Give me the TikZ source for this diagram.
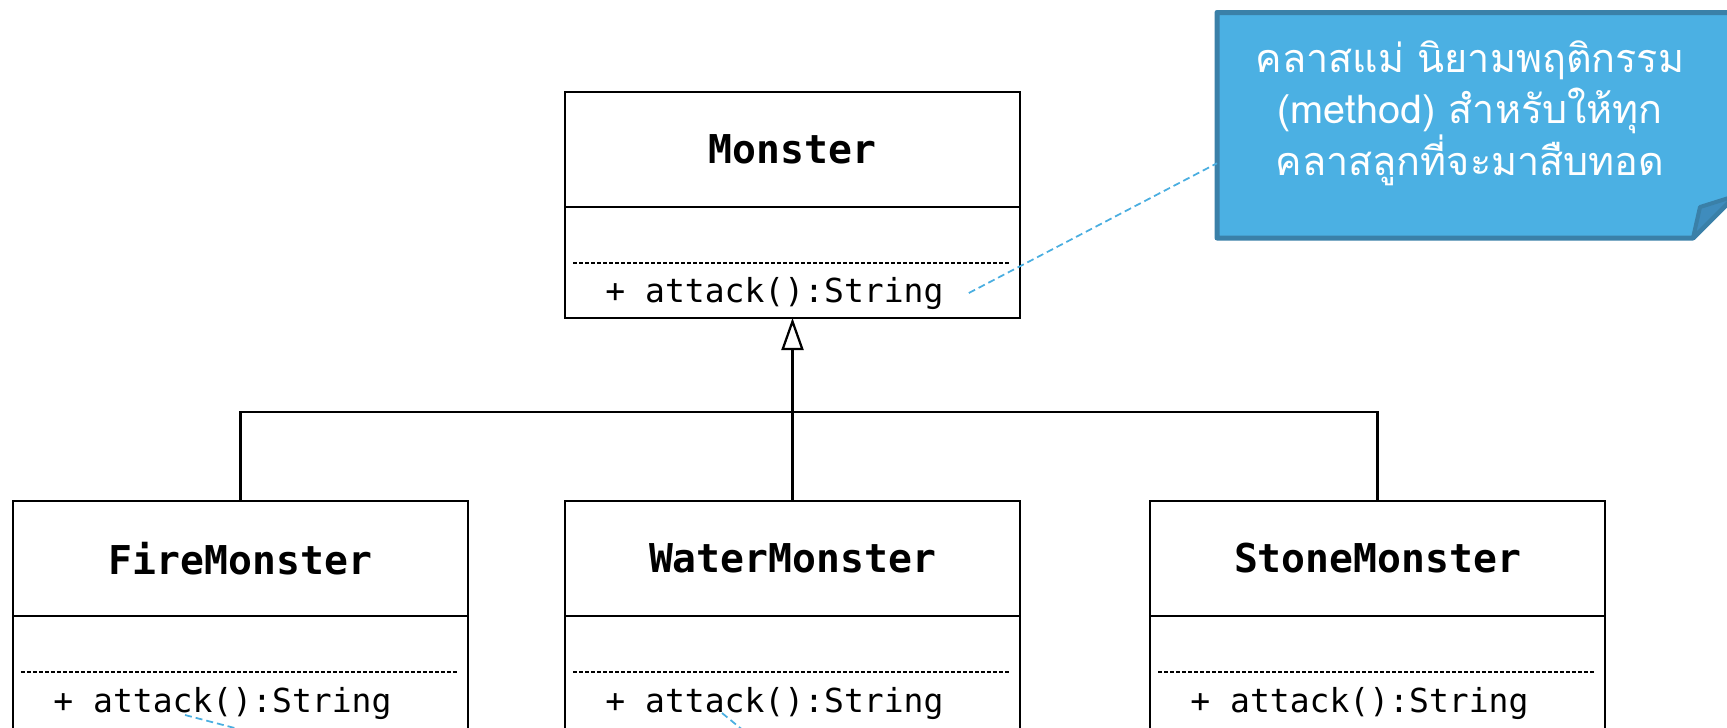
\documentclass[tikz,border=0pt]{standalone}
\usepackage{fontspec}
\setmonofont{DejaVu Sans Mono}
\newfontfamily\thaifont[Script=Thai]{Loma}
\usetikzlibrary{arrows.meta, positioning}

\definecolor{notefill}{HTML}{4BB0E3}
\definecolor{noteedge}{HTML}{3A80A8}
\definecolor{notefold}{HTML}{3F8CBD}
\definecolor{linkblue}{HTML}{4AAEE0}

\tikzstyle{classhead} = [
	rectangle,
	minimum width=9.1cm,
	minimum height=2.3cm,
	outer sep=0pt,
	draw=black,
	line width=0.045cm,
	font=\fontsize{22.6}{27}\selectfont\ttfamily\bfseries
]
\tikzstyle{classbody} = [
	rectangle,
	minimum width=9.1cm,
	minimum height=2.22cm,
	outer sep=0pt,
	draw=black,
	line width=0.045cm,
	path picture={
		\draw [black, line width=0.03cm, dash pattern=on 0.08cm off 0.04cm]
			([xshift=0.16cm, yshift=-1.12cm]path picture bounding box.north west) --
			([xshift=-0.2cm, yshift=-1.12cm]path picture bounding box.north east);
	}
]
\tikzstyle{operation} = [
	anchor=base west,
	inner sep=0pt,
	font=\fontsize{18.8}{22}\selectfont\ttfamily
]
\tikzstyle{callout} = [
	rectangle,
	minimum width=10.36cm,
	minimum height=4.51cm,
	outer sep=0pt,
	inner sep=0pt
]
\tikzstyle{notetext} = [
	text=white,
	align=center,
	font=\thaifont\fontsize{22.5}{29.5}\selectfont
]
\tikzstyle{uml} = [line width=0.045cm]
\tikzstyle{inherit} = [uml, -{Triangle[open, length=0.64cm, width=0.44cm]}]
\tikzstyle{noteline} = [line width=0.035cm, draw=linkblue, dash pattern=on 0.14cm off 0.08cm]

\begin{document}
\begin{tikzpicture}
	\useasboundingbox (0,0) rectangle (34.54,-14.54);

	% parent class
	\node (monster) [classhead] at (15.85,-2.99) {Monster};
	\node (monsterbody) [classbody, below=0pt of monster] {};
	\node (monsterop) [operation] at ([xshift=0.8cm, yshift=-1.9cm]monsterbody.north west) {+ attack():String};

	% subclasses
	\node (fire) [classhead, below left=3.66cm and 1.94cm of monsterbody] {FireMonster};
	\node (firebody) [classbody, below=0pt of fire, minimum height=2.4cm] {};
	\node (fireop) [operation] at ([xshift=0.8cm, yshift=-1.92cm]firebody.north west) {+ attack():String};

	\node (water) [classhead, below=3.66cm of monsterbody] {WaterMonster};
	\node (waterbody) [classbody, below=0pt of water, minimum height=2.4cm] {};
	\node (waterop) [operation] at ([xshift=0.8cm, yshift=-1.92cm]waterbody.north west) {+ attack():String};

	\node (stone) [classhead, below right=3.66cm and 2.6cm of monsterbody] {StoneMonster};
	\node (stonebody) [classbody, below=0pt of stone, minimum height=2.4cm] {};
	\node (stoneop) [operation] at ([xshift=0.8cm, yshift=-1.92cm]stonebody.north west) {+ attack():String};

	% generalisation
	\coordinate (bus) at ([yshift=-1.88cm]monsterbody.south);
	\draw [inherit] (water.north) -- (monsterbody.south);
	\draw [uml] (fire.north) |- (bus) -| (stone.north);

	% note with folded corner
	\node (note) [callout] at (29.52,-2.505) {};
	\filldraw [fill=notefill, draw=noteedge, line width=0.1cm, line join=round]
		(note.north west) -- (note.north east) -- ([yshift=0.84cm]note.south east)
		-- ([xshift=-0.84cm]note.south east) -- (note.south west) -- cycle;
	\filldraw [fill=notefold, draw=noteedge, line width=0.08cm, line join=round]
		([xshift=-0.84cm]note.south east) -- ([xshift=-0.7cm, yshift=0.62cm]note.south east)
		-- ([yshift=0.84cm]note.south east) -- cycle;
	\node (notelabel) [notetext] at ([xshift=-0.12cm, yshift=0.24cm]note.center)
		{คลาสแม่ นิยามพฤติกรรม\\(method) สำหรับให้ทุก\\คลาสลูกที่จะมาสืบทอด};

	% links to the notes
	\coordinate (firenote) at (5.0,-14.64);
	\coordinate (waternote) at (15.0,-14.72);
	\draw [noteline] ([xshift=0.5cm]monsterop.east) -- ([yshift=-0.76cm]note.west);
	\draw [noteline] ([xshift=2.64cm, yshift=-0.06cm]fireop.base west) -- (firenote);
	\draw [noteline] ([xshift=2.34cm, yshift=-0.02cm]waterop.base west) -- (waternote);
\end{tikzpicture}
\end{document}
